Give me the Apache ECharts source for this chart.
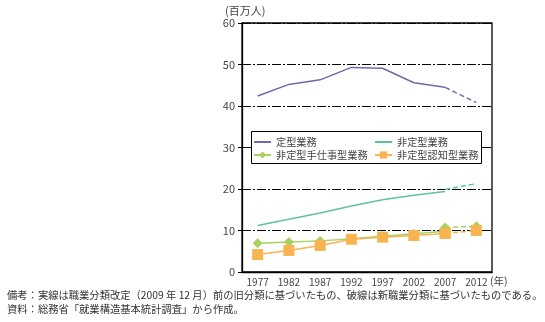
<!DOCTYPE html>
<html><head><meta charset="utf-8">
<script src="https://cdn.jsdelivr.net/npm/echarts@6/dist/echarts.min.js"></script>
<style>html,body{margin:0;padding:0;background:#fff}#c{width:545px;height:322px}</style>
</head><body><div id="c"></div>
<script>
var categories = ['1977','1982','1987','1992','1997','2002','2007','2012'];
var yTicks = [0,10,20,30,40,50,60];
// solid = old classification (1977-2007), dashed = new classification (2007-2012)
var routineOld = [42.4, 45.2, 46.3, 49.3, 49.1, 45.6, 44.5, null];
var routineNew = [null, null, null, null, null, null, 44.5, 40.8];
var nonRoutineOld = [11.2, 12.7, 14.2, 15.9, 17.4, 18.5, 19.4, null];
var nonRoutineNew = [null, null, null, null, null, null, 19.9, 21.3];
var manualOld = [6.9, 7.2, 7.5, 8.0, 8.6, 9.2, 9.8, null];
var manualNew = [null, null, null, null, null, null, 10.7, 11.0];
var cognitiveOld = [4.2, 5.2, 6.4, 7.9, 8.4, 8.8, 9.3, null];
var cognitiveNew = [null, null, null, null, null, null, 9.3, 10.0];
var names = ['定型業務','非定型業務','非定型手仕事型業務','非定型認知型業務'];
var colors = ['#6f69ab','#5fc2a2','#a9d160','#f7b450'];
var FONT = '"Noto Sans CJK JP", sans-serif';

var chart = echarts.init(document.getElementById('c'), null, {renderer:'canvas'});
function s(name, data, color, dashed, symbol, size, z){
  return {
    name: name, type:'line', data:data, z:z,
    symbol: symbol, symbolSize: size, showSymbol: size > 0,
    connectNulls:false, animation:false,
    lineStyle:{color:color, width:1.5, type: dashed ? [5,3] : 'solid'},
    itemStyle:{color:color}
  };
}
var hidden = {opacity:0};
var legendText = {fontSize:10.2, color:'#444', fontFamily:FONT, lineHeight:13};
var option = {
  animation:false,
  textStyle:{fontFamily:FONT},
  grid:{left:242, right:53, top:23, bottom:50, show:true, borderColor:'#000', borderWidth:1.3},
  xAxis:{
    type:'category', data:categories, boundaryGap:true,
    axisLine:{lineStyle:{color:'#000', width:1.3}},
    axisTick:{inside:true, length:4, lineStyle:{color:'#000'}},
    axisLabel:{color:'#444', fontSize:10, margin:5, interval:0, fontFamily:FONT}
  },
  yAxis:{
    type:'value', min:yTicks[0], max:yTicks[yTicks.length-1], interval:10,
    axisLine:{show:true, lineStyle:{color:'#000', width:1.3}},
    axisTick:{show:true, length:4, lineStyle:{color:'#000'}},
    axisLabel:{color:'#444', fontSize:11, margin:7, fontFamily:FONT},
    splitLine:{show:true, lineStyle:{color:'#000', width:1, type:[9,2,2,2]}}
  },
  legend:[
    {left:253, top:135.5, orient:'vertical', itemGap:0, itemWidth:17, itemHeight:9, padding:0, z:5,
     data:[{name:names[0], itemStyle:hidden}, names[2]], textStyle:legendText},
    {left:374, top:135.5, orient:'vertical', itemGap:0, itemWidth:17, itemHeight:9, padding:0, z:5,
     data:[{name:names[1], itemStyle:hidden}, names[3]], textStyle:legendText}
  ],
  graphic:[
    {type:'rect', z:1, shape:{x:251.5, y:131.5, width:230, height:32}, style:{fill:'#fff', stroke:'#000', lineWidth:1}},
    {type:'text', left:225, top:5, style:{text:'(百万人)', fontSize:11, fill:'#444', fontFamily:FONT}},
    {type:'text', left:490, top:276, style:{text:'(年)', fontSize:10.5, fill:'#444', fontFamily:FONT}},
    {type:'text', left:7, top:290, style:{text:'備考：実線は職業分類改定（2009 年 12 月）前の旧分類に基づいたもの、破線は新職業分類に基づいたものである。', fontSize:10.3, fill:'#333', fontFamily:FONT}},
    {type:'text', left:7, top:304, style:{text:'資料：総務省「就業構造基本統計調査」から作成。', fontSize:10.3, fill:'#333', fontFamily:FONT}}
  ],
  series:[
    s(names[0], routineOld, colors[0], false, 'circle', 0, 2),
    s(names[1], nonRoutineOld, colors[1], false, 'circle', 0, 2),
    s(names[2], manualOld, colors[2], false, 'diamond', 10, 3),
    s(names[3], cognitiveOld, colors[3], false, 'rect', 11, 4),
    s(names[0]+'_new', routineNew, colors[0], true, 'circle', 0, 2),
    s(names[1]+'_new', nonRoutineNew, colors[1], true, 'circle', 0, 2),
    s(names[2]+'_new', manualNew, colors[2], true, 'diamond', 10, 3),
    s(names[3]+'_new', cognitiveNew, colors[3], true, 'rect', 11, 4)
  ]
};
chart.setOption(option);
</script></body></html>
